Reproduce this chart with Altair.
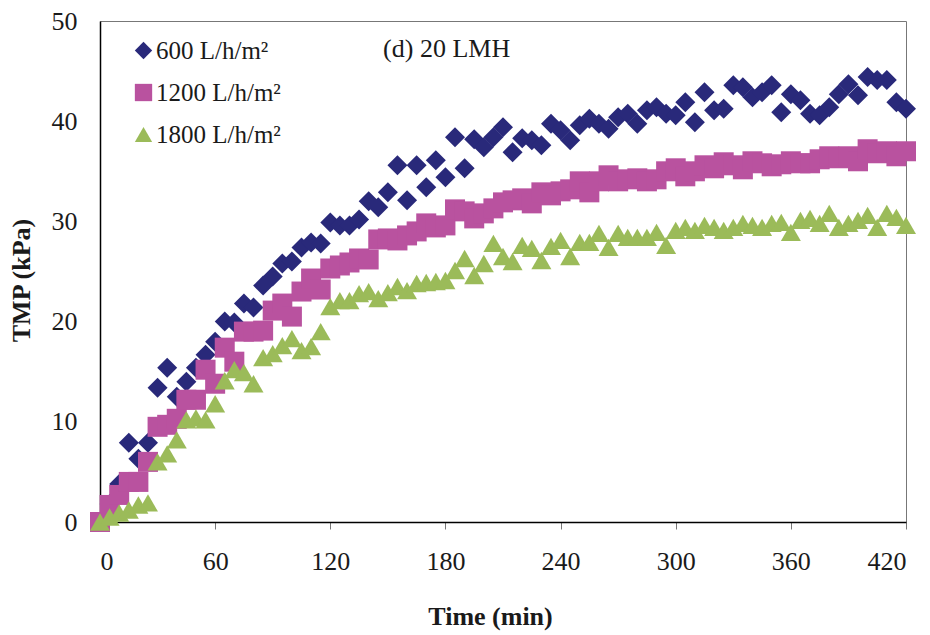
import altair as alt
import pandas as pd

# ---- data (time step 5 min) ----
time_min = list(range(0, 425, 5))

tmp_600 = [0, 1.8, 3.8, 7.9, 6.3, 7.9, 13.4, 15.4, 12.5, 14.0,
           15.4, 16.7, 18.0, 20.0, 19.9, 21.8, 21.4, 23.6, 24.5, 25.8,
           26.0, 27.4, 27.9, 27.8, 29.9, 29.6, 29.6, 30.2, 32.0, 31.4,
           32.9, 35.6, 32.1, 35.6, 33.4, 36.1, 34.4, 38.4, 35.3, 38.2,
           37.4, 38.4, 39.4, 36.9, 38.3, 38.1, 37.6, 39.75, 39.1, 38.1,
           39.6, 40.25, 39.75, 39.25, 40.4, 40.75, 39.75, 41.1, 41.4, 40.75,
           40.6, 41.9, 39.9, 42.9, 41.1, 41.25, 43.6, 43.4, 42.4, 42.9,
           43.6, 40.9, 42.7, 42.1, 40.75, 40.6, 41.4, 42.7, 43.7, 42.6,
           44.4, 44.1, 44.1, 41.9, 41.25]

tmp_1200 = [0, 1.7, 2.7, 4.0, 4.0, 6.0, 9.5, 9.7, 10.3, 12.2,
            12.2, 15.2, 13.8, 17.4, 16.0, 19.0, 19.0, 19.1, 21.1, 21.8,
            20.5, 23.0, 24.3, 23.2, 25.3, 25.6, 25.9, 26.3, 26.2, 28.2,
            28.3, 28.1, 28.6, 29.0, 29.8, 29.4, 29.6, 31.2, 31.0, 30.3,
            30.8, 31.3, 31.9, 32.1, 32.3, 31.8, 32.9, 32.6, 33.0, 33.2,
            34.0, 32.9, 34.0, 34.6, 34.0, 34.2, 34.3, 34.0, 34.2, 35.0,
            35.3, 34.5, 35.0, 35.6, 35.3, 35.9, 35.6, 35.2, 36.0, 35.8,
            35.5, 35.7, 36.0, 35.8, 35.8, 36.2, 36.5, 36.3, 36.5, 36.0,
            37.2, 36.8, 37.0, 36.5, 37.0]

tmp_1800 = [0, 0.5, 0.9, 1.2, 1.7, 1.9, 6.0, 6.8, 8.2, 10.2,
            10.4, 10.2, 11.8, 14.1, 15.2, 14.9, 13.8, 16.4, 16.8, 17.6,
            18.3, 17.1, 17.5, 19.0, 21.5, 22.1, 22.1, 22.8, 23.0, 22.3,
            22.9, 23.5, 23.1, 23.8, 23.9, 24.0, 24.1, 25.1, 26.3, 24.6,
            25.8, 27.8, 26.5, 26.0, 27.6, 27.3, 26.1, 27.5, 28.1, 26.5,
            27.9, 27.9, 28.8, 27.4, 28.8, 28.4, 28.4, 28.4, 28.9, 27.6,
            29.1, 29.4, 29.1, 29.6, 29.4, 29.1, 29.4, 29.8, 29.6, 29.4,
            29.8, 29.9, 28.9, 30.1, 30.3, 29.8, 30.8, 29.4, 29.8, 30.1,
            30.6, 29.4, 30.8, 30.4, 29.6]

series_labels = ["600 L/h/m\u00b2", "1200 L/h/m\u00b2", "1800 L/h/m\u00b2"]
series_colors = ["#29297A", "#B9529F", "#9BBB59"]
series_shapes = ["diamond", "square", "triangle-up"]

x_ticks = [0, 60, 120, 180, 240, 300, 360, 420]
y_ticks = [0, 10, 20, 30, 40, 50]

annotation_text = ["(d) 20 LMH"]

rows = []
for order, (label, vals) in enumerate(zip(series_labels, [tmp_600, tmp_1200, tmp_1800])):
    for t, v in zip(time_min, vals):
        rows.append({"Time": t, "TMP": v, "Series": label, "order": order})
df = pd.DataFrame(rows)

FONT = "Liberation Serif"

x_enc = alt.X(
    "Time:Q",
    scale=alt.Scale(domain=[0, 420], nice=False, zero=False),
    axis=alt.Axis(
        values=x_ticks, title="Time (min)", grid=False,
        labelFont=FONT, labelFontSize=26, labelColor="#1a1a1a",
        tickSize=7, tickColor="#777777", tickWidth=1,
        domainColor="#000000", domainWidth=1.5, labelPadding=19,
        titleFont=FONT, titleFontSize=26, titleFontWeight="bold",
        titleColor="#1a1a1a", titlePadding=29, titleX=390, titleAlign="center",
    ),
)
y_enc = alt.Y(
    "TMP:Q",
    scale=alt.Scale(domain=[0, 50], nice=False),
    axis=alt.Axis(
        values=y_ticks, title="TMP (kPa)", grid=False, ticks=False,
        tickSize=0,
        labelFont=FONT, labelFontSize=26, labelColor="#1a1a1a",
        domainColor="#000000", domainWidth=1.5, labelPadding=23,
        titleFont=FONT, titleFontSize=26, titleFontWeight="bold",
        titleColor="#1a1a1a", titlePadding=17, titleY=259, titleAlign="center",
    ),
)

points = alt.Chart(df).mark_point(filled=True, opacity=1, size=400, strokeWidth=0).encode(
    x=x_enc,
    y=y_enc,
    color=alt.Color(
        "Series:N",
        scale=alt.Scale(domain=series_labels, range=series_colors),
        legend=alt.Legend(
            title=None, orient="none", legendX=31, legendY=17,
            labelFont=FONT, labelFontSize=25, labelColor="#1a1a1a",
            symbolSize=300, symbolStrokeWidth=0, labelOffset=0,
            rowPadding=16, padding=0,
        ),
    ),
    shape=alt.Shape("Series:N", scale=alt.Scale(domain=series_labels, range=series_shapes)),
    order=alt.Order("order:Q"),
)

ann_df = pd.DataFrame({"Time": [147.5], "TMP": [47.2], "label": annotation_text})
annotation = alt.Chart(ann_df).mark_text(
    align="left", baseline="middle", font=FONT, fontSize=26, color="#1a1a1a"
).encode(x="Time:Q", y="TMP:Q", text="label:N")

chart = (
    alt.layer(points, annotation)
    .properties(
        width=806, height=501,
        autosize=alt.AutoSizeParams(type="none"),
        padding={"left": 92, "top": 13, "right": 16, "bottom": 112},
        background="white",
    )
    .configure_view(stroke="#777777", strokeWidth=1)
)

chart.save("out.html", embed_options={"renderer": "svg", "actions": False})
